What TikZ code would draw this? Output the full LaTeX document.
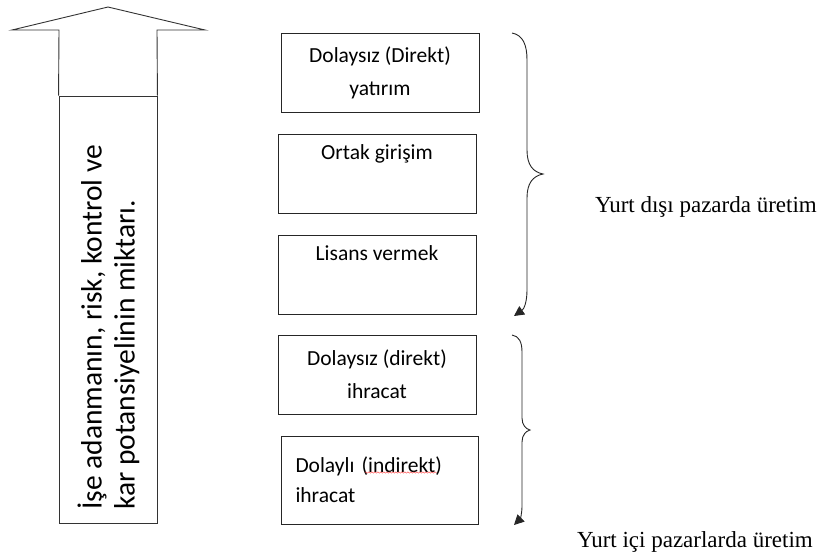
\documentclass[tikz,border=0pt]{standalone}
\usepackage{fontspec}
\setmainfont{Carlito}
\newfontfamily\timesfont{Liberation Serif}
\usetikzlibrary{arrows.meta,decorations.pathmorphing}
\begin{document}
\begin{tikzpicture}[x=1pt,y=-1pt,
  box/.style={draw=black!85, line width=0.8pt, minimum width=198pt, minimum height=79pt,
    inner sep=0pt, align=center, font=\fontsize{21.5}{33}\selectfont},
  outline/.style={draw=black!80, line width=0.9pt},
  lbl/.style={inner sep=0pt, font=\timesfont\fontsize{23}{27}\selectfont},
  brace/.style={draw=black!85, line width=0.9pt, -{Triangle[length=10pt,width=10pt]}}]
\useasboundingbox (0,0) rectangle (824,558);

% big up arrow
\node[outline, minimum width=98pt, minimum height=427pt, inner sep=0pt] (shaft) at (108,309.5) {};
\draw[outline, line join=miter] (shaft.north west) -- (59,30) -- (12,30) -- (108,7) -- (205,30) -- (157,30) -- (shaft.north east);
\node[rotate=90, anchor=west, align=left, inner sep=0pt,
  font=\fontsize{29.5}{33}\selectfont] (vtext) at (108.5,510)
  {İşe adanmanın, risk, kontrol ve\\kar potansiyelinin miktarı.};

% boxes
\node[box] (b1) at (380,72.5) {Dolaysız (Direkt)\\yatırım};
\node[box] (b2) at (377,173.5) {Ortak girişim\\\strut};
\node[box] (b3) at (377,274.5) {Lisans vermek\\\strut};
\node[box] (b4) at (377,374.5) {Dolaysız (direkt)\\ihracat};
\node[box, minimum width=197pt, minimum height=88pt, text width=168pt, align=left,
  font=\fontsize{21.5}{30}\selectfont] (b5) at (379.5,480) {Dolaylı (indirekt)\\ihracat};
\draw[red!80, line width=0.4pt, decorate, decoration={snake, amplitude=0.7pt, segment length=3pt}]
  (365,472.5) -- (437,472.5);

% braces
\coordinate (u0) at (512,33);
\coordinate (u1) at (514,316);
\draw[brace] (u0) .. controls (523,35) and (527,45) .. (527,60) -- (527,150)
  .. controls (527,165) and (533,172) .. (543,174)
  .. controls (533,176) and (527,183) .. (527,198) -- (527,290)
  .. controls (527,302) and (524,309) .. (u1);
\coordinate (d0) at (512,335);
\coordinate (d1) at (514,525);
\draw[brace] (d0) .. controls (519,336) and (522,342) .. (522,352) -- (522,418)
  .. controls (522,425) and (526,429) .. (530,430)
  .. controls (526,431) and (522,435) .. (522,442) -- (522,506)
  .. controls (522,514) and (520,519) .. (d1);

% labels
\node[lbl] (l1) at (706,207) {Yurt dışı pazarda üretim};
\node[lbl] (l2) at (695,542) {Yurt içi pazarlarda üretim};
\end{tikzpicture}
\end{document}
